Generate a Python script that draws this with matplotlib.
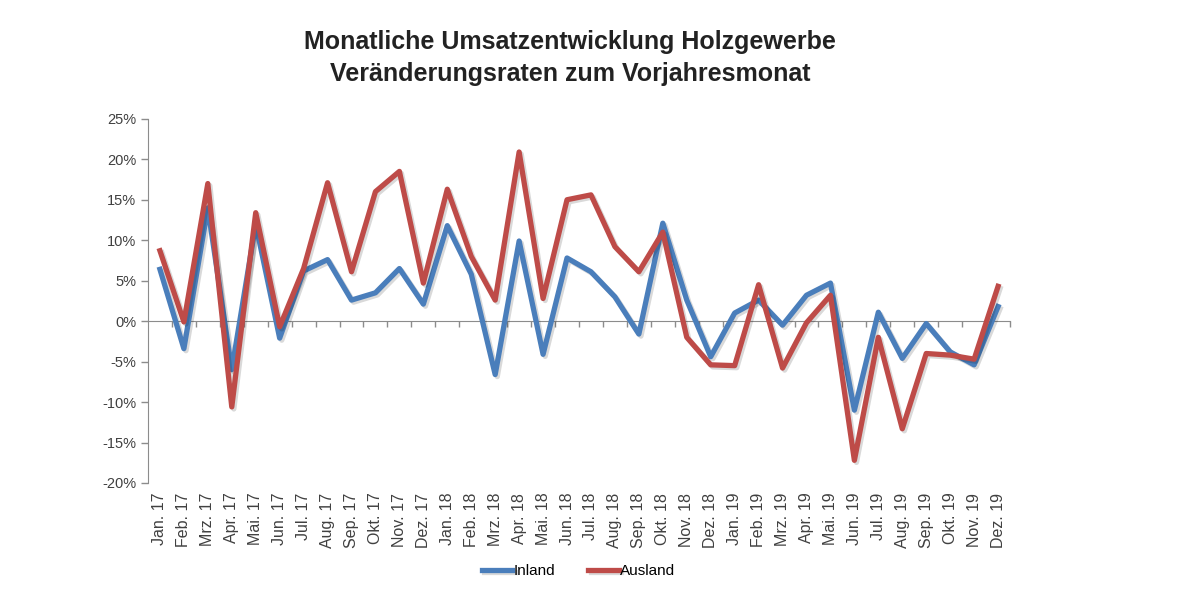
import matplotlib.pyplot as plt
import matplotlib.patheffects as pe
from matplotlib.ticker import FuncFormatter

plt.rcParams['font.family'] = ['Liberation Sans', 'DejaVu Sans']

# Monatslabels Jan. 17 - Dez. 19
monate = ["Jan.", "Feb.", "Mrz.", "Apr.", "Mai.", "Jun.",
          "Jul.", "Aug.", "Sep.", "Okt.", "Nov.", "Dez."]
jahre = ["17", "18", "19"]
labels = [f"{m} {j}" for j in jahre for m in monate]

# Veraenderung zum Vorjahresmonat in %
inland = [6.4, -3.4, 14.0, -6.0, 12.0, -2.1, 6.2, 7.6, 2.6, 3.5, 6.5, 2.1,
          11.8, 5.8, -6.6, 9.9, -4.1, 7.8, 6.1, 3.0, -1.6, 12.1, 2.6, -4.4,
          1.0, 2.6, -0.5, 3.2, 4.7, -11.0, 1.1, -4.6, -0.3, -3.8, -5.4, 1.8]
ausland = [8.7, -0.1, 17.0, -10.6, 13.4, -0.7, 6.5, 17.1, 6.1, 16.0, 18.5, 4.7,
           16.3, 8.0, 2.6, 20.9, 2.8, 15.0, 15.6, 9.2, 6.1, 11.0, -2.0, -5.4,
           -5.5, 4.5, -5.8, -0.2, 3.2, -17.2, -2.0, -13.3, -4.0, -4.2, -4.7, 4.3]

blau = "#4a7ebb"
rot = "#be4b48"
grau = "#8c8c8c"

fig = plt.figure(figsize=(12, 6), dpi=100)
ax = fig.add_axes([0.1233, 0.195, 0.7184, 0.607])

x = list(range(len(labels)))
schatten = [pe.SimpleLineShadow(offset=(1.5, -1.5), alpha=0.15), pe.Normal()]
ax.plot(x, inland, color=blau, lw=3.8, label="Inland", path_effects=schatten, zorder=3)
ax.plot(x, ausland, color=rot, lw=3.8, label="Ausland", path_effects=schatten, zorder=4)

ax.set_xlim(-0.5, len(labels) - 0.5)
ax.set_ylim(-20, 25)
ax.set_yticks(range(-20, 30, 5))
ax.yaxis.set_major_formatter(FuncFormatter(lambda v, p: f"{v:.0f}%"))
ax.tick_params(axis='y', colors=grau, labelcolor="#404040", labelsize=10.5, length=5, width=1)

# Nulllinie mit Strichen zwischen den Monaten
for s in ["top", "right"]:
    ax.spines[s].set_visible(False)
ax.spines["left"].set_color(grau)
ax.spines["bottom"].set_position(("data", 0))
ax.spines["bottom"].set_color(grau)
ax.set_xticks([i + 0.5 for i in x])
ax.tick_params(axis='x', colors=grau, length=4, width=1, labelbottom=False)

# Monatslabels unten
sec = ax.secondary_xaxis("bottom")
sec.set_xticks(x)
sec.set_xticklabels(labels, rotation=90, fontsize=11.5, color="#404040")
sec.tick_params(length=0, pad=7)
sec.spines["bottom"].set_visible(False)

fig.text(0.475, 0.903, "Monatliche Umsatzentwicklung Holzgewerbe\nVeränderungsraten zum Vorjahresmonat",
         ha="center", va="center", fontsize=18, fontweight="bold", color="#222222",
         linespacing=1.45)

fig.legend(loc="center", bbox_to_anchor=(0.482, 0.048), ncol=2, frameon=False,
           handlelength=2.0, handletextpad=0.05, columnspacing=2.2, fontsize=11)

fig.savefig("out.png")
